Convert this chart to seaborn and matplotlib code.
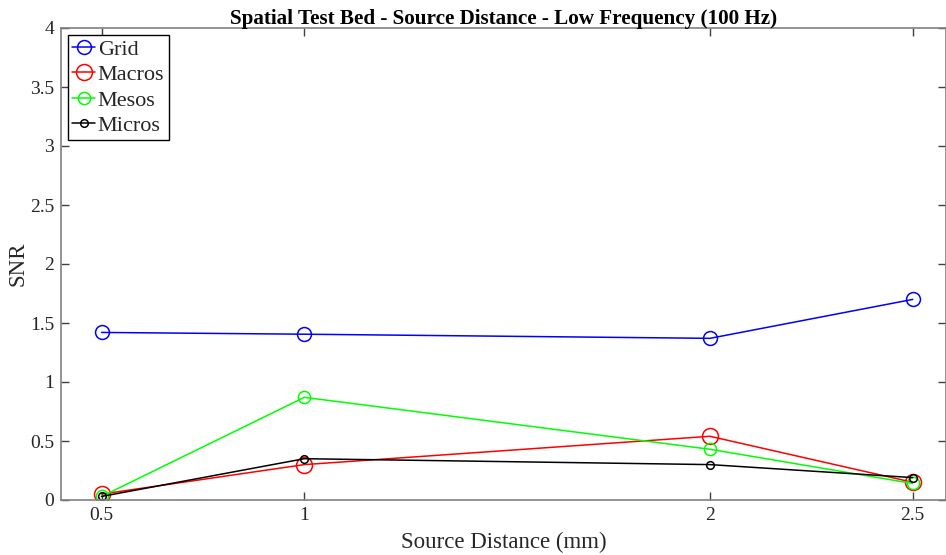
import matplotlib
matplotlib.use("Agg")
import matplotlib.pyplot as plt
import seaborn as sns
import pandas as pd

distance = [0.5, 1, 2, 2.5]
grid = [1.42, 1.405, 1.37, 1.70]
macros = [0.05, 0.30, 0.54, 0.15]
mesos = [0.03, 0.87, 0.43, 0.14]
micros = [0.03, 0.35, 0.30, 0.19]
series_names = ["Grid", "Macros", "Mesos", "Micros"]
xticks = [0.5, 1, 2, 2.5]
yticks = [0, 0.5, 1, 1.5, 2, 2.5, 3, 3.5, 4]
ytick_labels = ["0", "0.5", "1", "1.5", "2", "2.5", "3", "3.5", "4"]

sns.set_theme(style="white")
plt.rcParams["font.family"] = ["Liberation Serif", "DejaVu Serif"]

fig = plt.figure(figsize=(9.46, 5.55), dpi=100)
ax = fig.add_axes([61 / 946, 55 / 555, (946 - 61) / 946, 472 / 555])

values = {"Grid": grid, "Macros": macros, "Mesos": mesos, "Micros": micros}
colors = {"Grid": "#0000ff", "Macros": "#ff0000", "Mesos": "#00ff00", "Micros": "#000000"}
msizes = {"Grid": 10.0, "Macros": 11.5, "Mesos": 8.8, "Micros": 5.5}

for name in series_names:
    df = pd.DataFrame({"x": distance, "y": values[name]})
    sns.lineplot(data=df, x="x", y="y", ax=ax, color=colors[name], marker="o",
                 markersize=msizes[name], markerfacecolor="none",
                 markeredgecolor=colors[name], markeredgewidth=1.1,
                 linewidth=1.1, label=name, sort=False)

ax.set_xlim(0.4, 2.582)
ax.set_ylim(0, 4)
ax.set_xticks(xticks)
ax.set_xticklabels(["0.5", "1", "2", "2.5"])
ax.set_yticks(yticks)
ax.set_yticklabels(ytick_labels)

spine_color = "#808080"
for s in ax.spines.values():
    s.set_color(spine_color)
    s.set_linewidth(1.2)
    s.set_visible(True)
ax.tick_params(direction="in", length=6, width=1.0, color="#404040",
               labelsize=14, labelcolor="#262626", top=True, right=True,
               left=True, bottom=True, pad=5)

ax.set_xlabel("Source Distance (mm)", fontsize=16.5, color="#262626")
ax.xaxis.set_label_coords(0.5, -0.068)
ax.set_ylabel("SNR", fontsize=16.5, color="#262626")
ax.yaxis.set_label_coords(-0.037, 0.5)
ax.set_title("Spatial Test Bed - Source Distance - Low Frequency (100 Hz)",
             fontsize=15.2, fontweight="bold", color="black", pad=3)

leg = ax.legend(loc="upper left", fontsize=16, frameon=True, fancybox=False,
                edgecolor="black", handlelength=1.05, handletextpad=0.1,
                borderpad=0.2, labelspacing=0.22, borderaxespad=0.3,
                framealpha=1)
leg.get_frame().set_linewidth(1.0)

fig.savefig("out.png", dpi=100)
